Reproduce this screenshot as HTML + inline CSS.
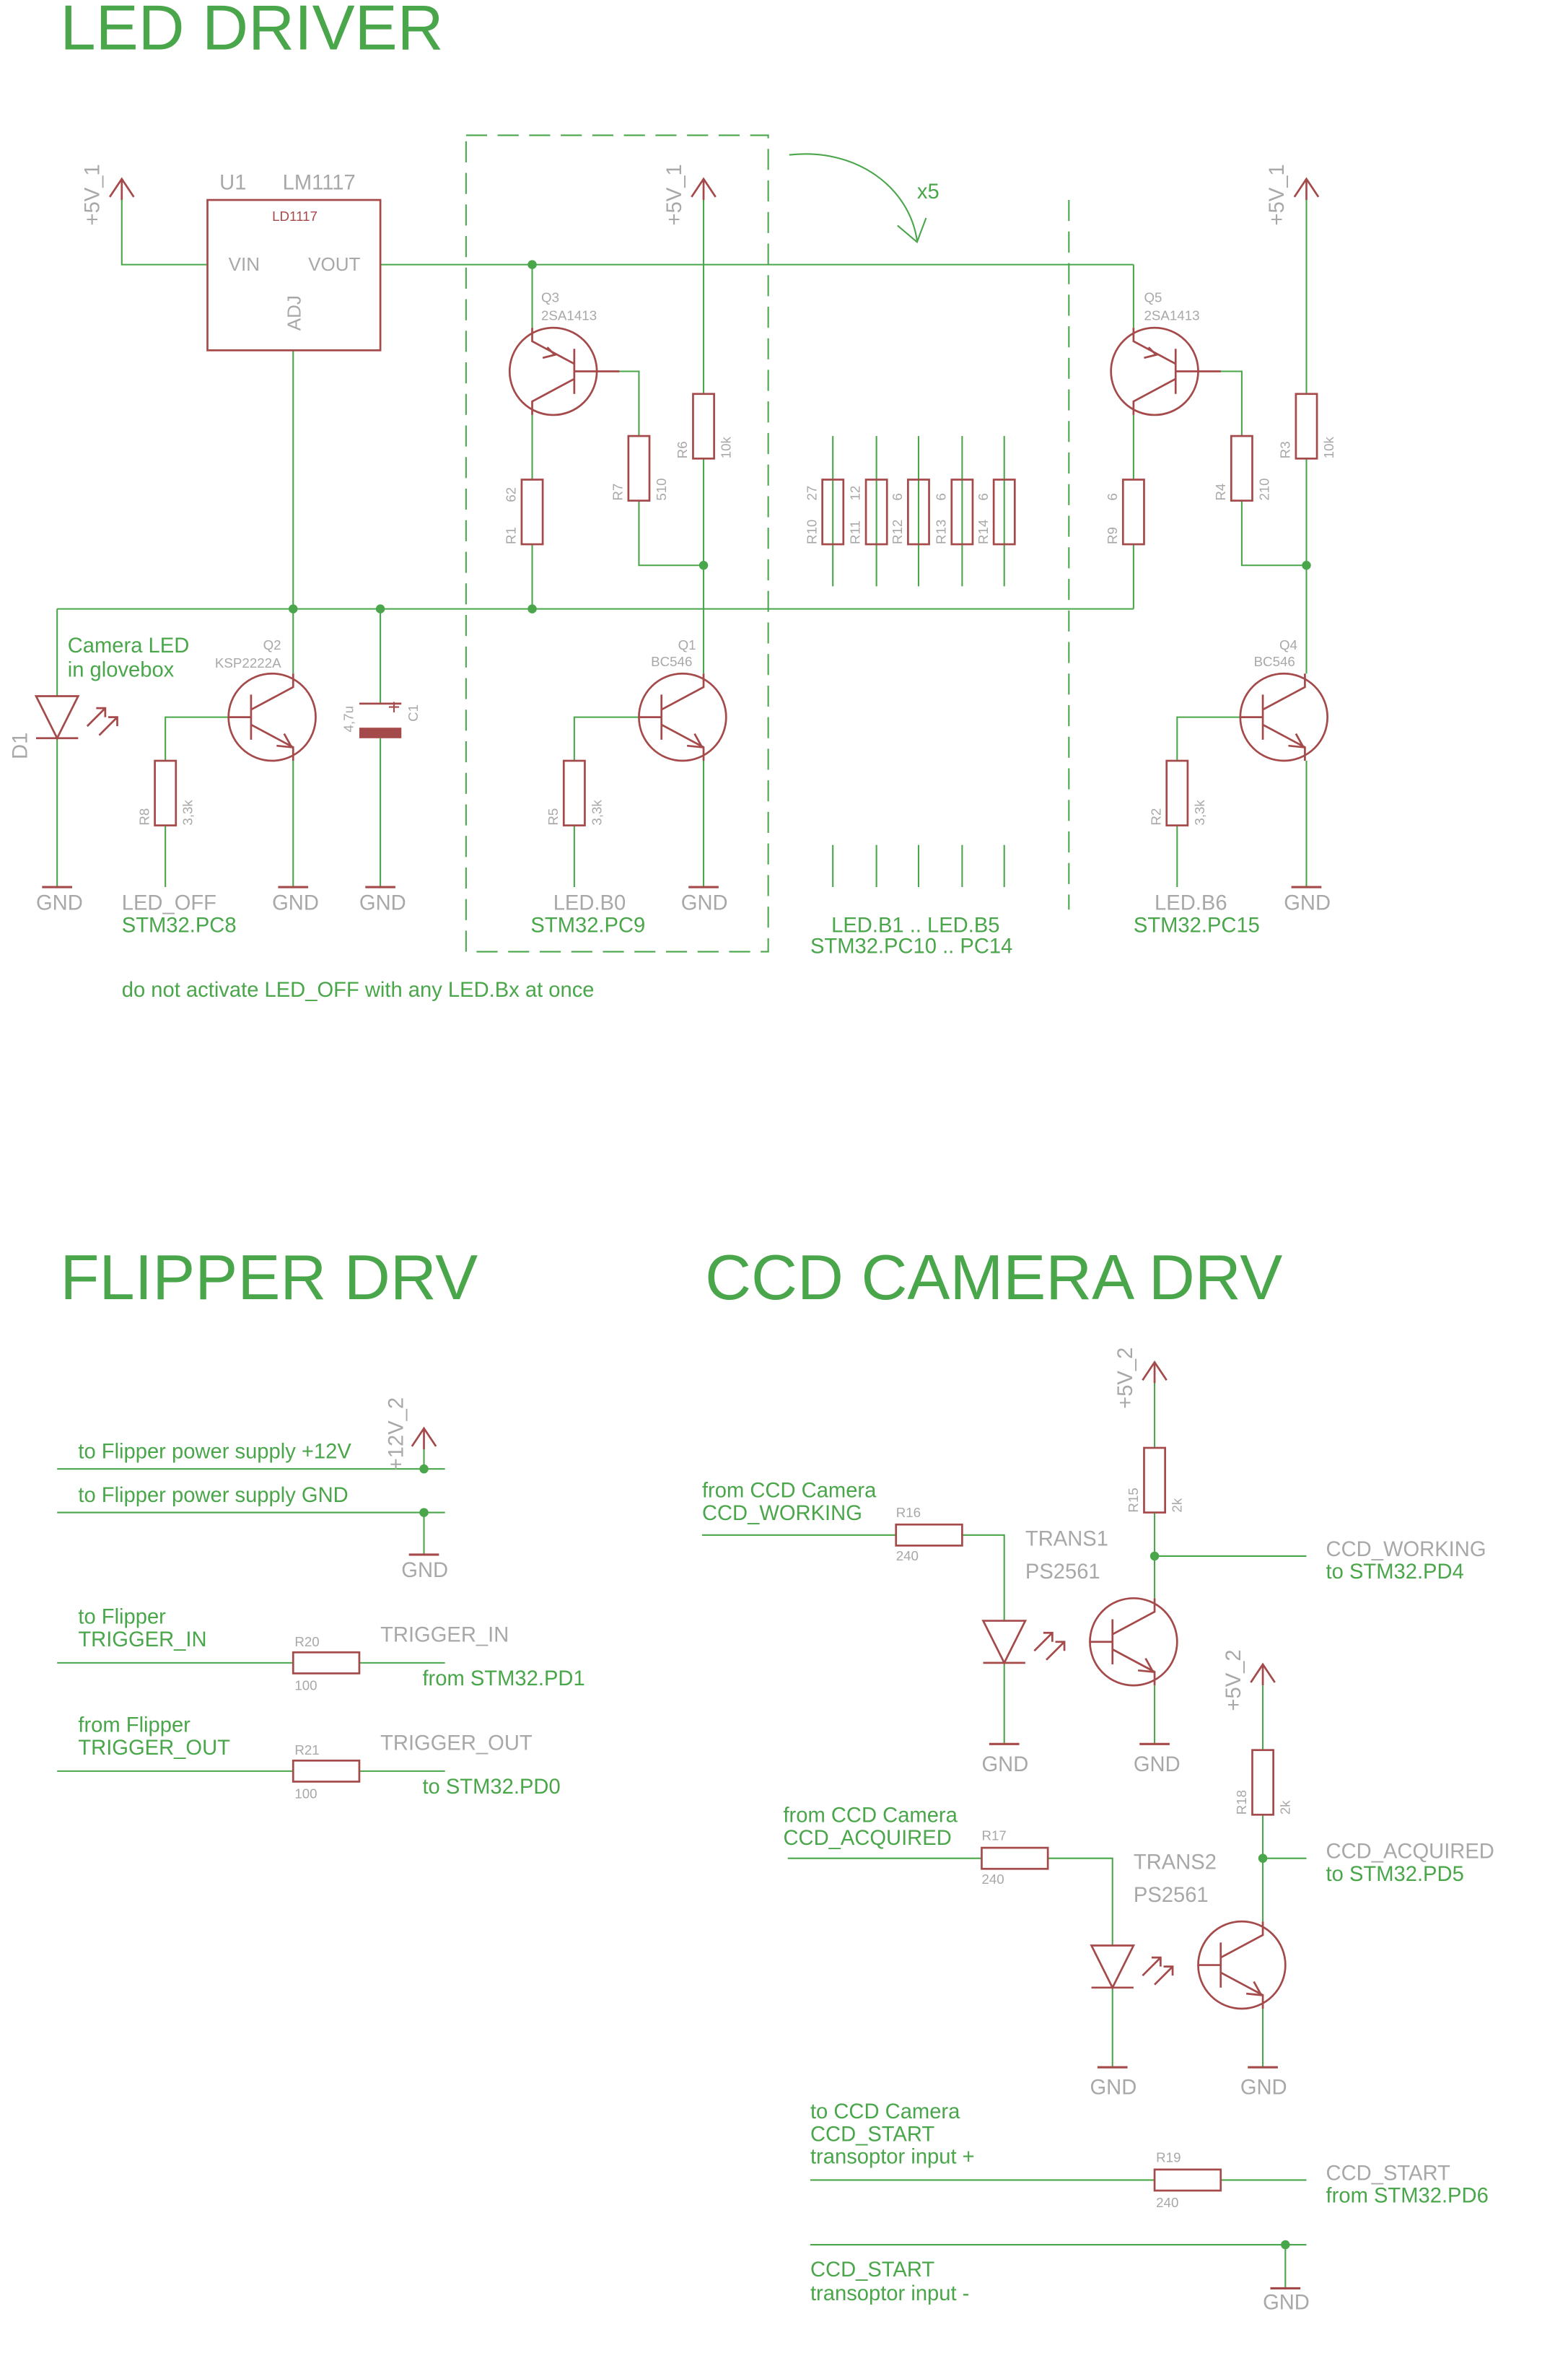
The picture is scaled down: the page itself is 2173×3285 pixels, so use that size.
<!DOCTYPE html>
<html><head><meta charset="utf-8"><style>
html,body{margin:0;padding:0;background:#fff;}
svg{display:block;}
text{font-family:"Liberation Sans",sans-serif;}
.g{fill:#4aa64a;}
.gr{fill:#a8a8a8;}
.r{fill:#a54a4a;}
</style></head><body>
<svg width="2173" height="3285" viewBox="0 0 1043 1577" preserveAspectRatio="none" xmlns="http://www.w3.org/2000/svg">
<defs>
<g id="npn" fill="none" stroke="#a54a4a" stroke-width="1.3">
<circle r="29"/><line x1="-14" y1="-15" x2="-14" y2="15"/><line x1="-29" y1="0" x2="-14" y2="0"/>
<polyline points="-14,-5 14,-20 14,-29"/><polyline points="-14,5 14,20 14,29"/>
<polyline points="3,19 13,20 8,11"/></g>
<g id="pnp" fill="none" stroke="#a54a4a" stroke-width="1.3">
<circle r="29"/><line x1="14" y1="-15" x2="14" y2="15"/><line x1="14" y1="0" x2="44" y2="0"/>
<polyline points="-14,-29 -14,-20 14,-5"/><polyline points="14,5 -14,20 -14,29"/>
<polyline points="-4,-16 1,-11 -7,-9"/></g>
<g id="gnd" stroke="#a54a4a" stroke-width="1.5"><line x1="-10" y1="0" x2="10" y2="0"/></g>
<g id="arr" fill="none" stroke="#a54a4a" stroke-width="1.3"><polyline points="-8,12 0,0 8,12"/><line x1="0" y1="0" x2="0" y2="14"/></g>
<g id="led" fill="none" stroke="#a54a4a" stroke-width="1.3"><polygon points="-14,0 14,0 0,28"/><line x1="-14" y1="28" x2="14" y2="28"/>
<line x1="20" y1="20" x2="32" y2="8"/><polyline points="26,8 32,8 32,14"/><line x1="28" y1="26" x2="40" y2="14"/><polyline points="34,14 40,14 40,20"/></g>
</defs>

<text x="40" y="33" class="g" font-size="42.5">LED DRIVER</text>
<text x="40" y="864" class="g" font-size="42.5">FLIPPER DRV</text>
<text x="469" y="864" class="g" font-size="42.5">CCD CAMERA DRV</text>

<g stroke="#4aa64a" stroke-width="1" fill="none">
<polyline points="81,133 81,176 138,176"/>
<line x1="253" y1="176" x2="754" y2="176"/>
<line x1="195" y1="233" x2="195" y2="405"/>
<line x1="38" y1="405" x2="754" y2="405"/>
<polyline points="38,405 38,463"/><line x1="38" y1="491" x2="38" y2="590"/>
<line x1="354" y1="176" x2="354" y2="218"/>
<line x1="354" y1="276" x2="354" y2="319"/><line x1="354" y1="362" x2="354" y2="405"/>
<polyline points="410,247 425,247 425,290"/><polyline points="425,333 425,376 468,376"/>
<line x1="468" y1="133" x2="468" y2="262"/><line x1="468" y1="305" x2="468" y2="448"/>
<line x1="468" y1="506" x2="468" y2="590"/>
<polyline points="382,506 382,477 425,477"/><line x1="382" y1="549" x2="382" y2="590"/>
<line x1="195" y1="405" x2="195" y2="448"/><line x1="195" y1="506" x2="195" y2="590"/>
<polyline points="110,506 110,477 152,477"/><line x1="110" y1="549" x2="110" y2="590"/>
<line x1="253" y1="405" x2="253" y2="468"/><line x1="253" y1="491" x2="253" y2="590"/>
<line x1="754" y1="176" x2="754" y2="218"/><line x1="754" y1="276" x2="754" y2="319"/><line x1="754" y1="362" x2="754" y2="405"/>
<polyline points="810,247 826,247 826,290"/><polyline points="826,333 826,376 869,376"/>
<line x1="869" y1="133" x2="869" y2="262"/><line x1="869" y1="305" x2="869" y2="448"/><line x1="869" y1="506" x2="869" y2="590"/>
<polyline points="783,506 783,477 825,477"/><line x1="783" y1="549" x2="783" y2="590"/>
<line x1="554" y1="290" x2="554" y2="390"/><line x1="583" y1="290" x2="583" y2="390"/><line x1="611" y1="290" x2="611" y2="390"/><line x1="640" y1="290" x2="640" y2="390"/><line x1="668" y1="290" x2="668" y2="390"/>
<line x1="554" y1="562" x2="554" y2="590"/><line x1="583" y1="562" x2="583" y2="590"/><line x1="611" y1="562" x2="611" y2="590"/><line x1="640" y1="562" x2="640" y2="590"/><line x1="668" y1="562" x2="668" y2="590"/>
<rect x="310" y="90" width="201" height="543" stroke-dasharray="14,7"/>
<line x1="711" y1="133" x2="711" y2="605" stroke-dasharray="14,7"/>
<path d="M525,103 C570,98 605,125 610,160"/><polyline points="597,150 610,161 616,145"/>
</g>
<g fill="#4aa64a"><circle cx="354" cy="176" r="3"/><circle cx="195" cy="405" r="3"/><circle cx="253" cy="405" r="3"/><circle cx="354" cy="405" r="3"/><circle cx="468" cy="376" r="3"/><circle cx="869" cy="376" r="3"/></g>

<g fill="none" stroke="#a54a4a" stroke-width="1.3">
<rect x="138" y="133" width="115" height="100"/>
<rect x="347" y="319" width="14" height="43"/><rect x="418" y="290" width="14" height="43"/><rect x="461" y="262" width="14" height="43"/>
<rect x="375" y="506" width="14" height="43"/><rect x="103" y="506" width="14" height="43"/>
<rect x="547" y="319" width="14" height="43"/><rect x="576" y="319" width="14" height="43"/><rect x="604" y="319" width="14" height="43"/><rect x="633" y="319" width="14" height="43"/><rect x="661" y="319" width="14" height="43"/>
<rect x="747" y="319" width="14" height="43"/><rect x="819" y="290" width="14" height="43"/><rect x="862" y="262" width="14" height="43"/><rect x="776" y="506" width="14" height="43"/>
<line x1="239" y1="468" x2="267" y2="468"/>
</g>
<rect x="239" y="484" width="28" height="7" fill="#a54a4a"/>
<text x="258" y="475" class="r" font-size="14">+</text>
<use href="#arr" x="81" y="119"/><use href="#arr" x="468" y="119"/><use href="#arr" x="869" y="119"/>
<use href="#pnp" transform="translate(368,247)"/><use href="#pnp" transform="translate(768,247)"/>
<use href="#npn" transform="translate(181,477)"/><use href="#npn" transform="translate(454,477)"/><use href="#npn" transform="translate(854,477)"/>
<use href="#led" transform="translate(38,463)"/>
<use href="#gnd" x="38" y="590"/><use href="#gnd" x="195" y="590"/><use href="#gnd" x="253" y="590"/><use href="#gnd" x="468" y="590"/><use href="#gnd" x="869" y="590"/>

<g class="gr" font-size="14">
<text x="146" y="126">U1</text><text x="188" y="126">LM1117</text>
<text x="152" y="180" font-size="12.5">VIN</text><text x="205" y="180" font-size="12.5">VOUT</text>
<text transform="translate(200,220) rotate(-90)" font-size="12.5">ADJ</text>
<text transform="translate(66,150) rotate(-90)">+5V_1</text>
<text transform="translate(453,150) rotate(-90)">+5V_1</text>
<text transform="translate(854,150) rotate(-90)">+5V_1</text>
<text transform="translate(18,505) rotate(-90)">D1</text>
<text x="24" y="605">GND</text><text x="181" y="605">GND</text><text x="239" y="605">GND</text><text x="453" y="605">GND</text><text x="854" y="605">GND</text>
<text x="81" y="605">LED_OFF</text><text x="368" y="605">LED.B0</text><text x="768" y="605">LED.B6</text>
</g>
<text x="181" y="147" class="r" font-size="9">LD1117</text>
<g class="gr" font-size="9">
<text x="360" y="201">Q3</text><text x="360" y="213">2SA1413</text>
<text x="761" y="201">Q5</text><text x="761" y="213">2SA1413</text>
<text x="175" y="432">Q2</text><text x="143" y="444">KSP2222A</text>
<text x="451" y="432">Q1</text><text x="433" y="443">BC546</text>
<text x="851" y="432">Q4</text><text x="834" y="443">BC546</text>
<text transform="translate(343,362) rotate(-90)">R1</text><text transform="translate(343,334) rotate(-90)">62</text>
<text transform="translate(414,333) rotate(-90)">R7</text><text transform="translate(443,333) rotate(-90)">510</text>
<text transform="translate(457,305) rotate(-90)">R6</text><text transform="translate(486,305) rotate(-90)">10k</text>
<text transform="translate(371,549) rotate(-90)">R5</text><text transform="translate(400,549) rotate(-90)">3,3k</text>
<text transform="translate(99,549) rotate(-90)">R8</text><text transform="translate(128,549) rotate(-90)">3,3k</text>
<text transform="translate(235,487) rotate(-90)">4,7u</text><text transform="translate(278,480) rotate(-90)">C1</text>
<text transform="translate(543,362) rotate(-90)">R10</text><text transform="translate(543,333) rotate(-90)">27</text>
<text transform="translate(572,362) rotate(-90)">R11</text><text transform="translate(572,333) rotate(-90)">12</text>
<text transform="translate(600,362) rotate(-90)">R12</text><text transform="translate(600,333) rotate(-90)">6</text>
<text transform="translate(629,362) rotate(-90)">R13</text><text transform="translate(629,333) rotate(-90)">6</text>
<text transform="translate(657,362) rotate(-90)">R14</text><text transform="translate(657,333) rotate(-90)">6</text>
<text transform="translate(743,362) rotate(-90)">R9</text><text transform="translate(743,333) rotate(-90)">6</text>
<text transform="translate(815,333) rotate(-90)">R4</text><text transform="translate(844,333) rotate(-90)">210</text>
<text transform="translate(858,305) rotate(-90)">R3</text><text transform="translate(887,305) rotate(-90)">10k</text>
<text transform="translate(772,549) rotate(-90)">R2</text><text transform="translate(801,549) rotate(-90)">3,3k</text>
</g>
<g class="g" font-size="14">
<text x="45" y="434">Camera LED</text><text x="45" y="450">in glovebox</text>
<text x="81" y="620">STM32.PC8</text><text x="353" y="620">STM32.PC9</text><text x="754" y="620">STM32.PC15</text>
<text x="553" y="620">LED.B1 .. LED.B5</text><text x="539" y="634">STM32.PC10 .. PC14</text>
<text x="610" y="132">x5</text>
<text x="81" y="663">do not activate LED_OFF with any LED.Bx at once</text>
</g>

<g stroke="#4aa64a" stroke-width="1" fill="none">
<line x1="38" y1="977" x2="296" y2="977"/><line x1="282" y1="964" x2="282" y2="977"/>
<line x1="38" y1="1006" x2="296" y2="1006"/><line x1="282" y1="1006" x2="282" y2="1034"/>
<line x1="38" y1="1106" x2="195" y2="1106"/><line x1="239" y1="1106" x2="296" y2="1106"/>
<line x1="38" y1="1178" x2="195" y2="1178"/><line x1="239" y1="1178" x2="296" y2="1178"/>
</g>
<g fill="#4aa64a"><circle cx="282" cy="977" r="3"/><circle cx="282" cy="1006" r="3"/></g>
<use href="#arr" x="282" y="950"/><use href="#gnd" x="282" y="1034"/>
<g fill="none" stroke="#a54a4a" stroke-width="1.3"><rect x="195" y="1099" width="44" height="14"/><rect x="195" y="1171" width="44" height="14"/></g>
<g class="g" font-size="14">
<text x="52" y="970">to Flipper power supply +12V</text><text x="52" y="999">to Flipper power supply GND</text>
<text x="52" y="1080">to Flipper</text><text x="52" y="1095">TRIGGER_IN</text>
<text x="52" y="1152">from Flipper</text><text x="52" y="1167">TRIGGER_OUT</text>
<text x="281" y="1121">from STM32.PD1</text><text x="281" y="1193">to STM32.PD0</text>
</g>
<g class="gr" font-size="14">
<text transform="translate(268,978) rotate(-90)">+12V_2</text>
<text x="267" y="1049">GND</text>
<text x="253" y="1092">TRIGGER_IN</text><text x="253" y="1164">TRIGGER_OUT</text>
</g>
<g class="gr" font-size="9"><text x="196" y="1095">R20</text><text x="196" y="1124">100</text><text x="196" y="1167">R21</text><text x="196" y="1196">100</text></g>

<g stroke="#4aa64a" stroke-width="1" fill="none">
<line x1="467" y1="1021" x2="596" y2="1021"/><polyline points="640,1021 668,1021 668,1078"/><line x1="668" y1="1106" x2="668" y2="1160"/>
<line x1="768" y1="920" x2="768" y2="963"/><line x1="768" y1="1006" x2="768" y2="1063"/><line x1="768" y1="1035" x2="869" y2="1035"/><line x1="768" y1="1121" x2="768" y2="1160"/>
<line x1="524" y1="1236" x2="653" y2="1236"/><polyline points="697,1236 740,1236 740,1294"/><line x1="740" y1="1322" x2="740" y2="1375"/>
<line x1="840" y1="1121" x2="840" y2="1164"/><line x1="840" y1="1207" x2="840" y2="1278"/><line x1="840" y1="1236" x2="869" y2="1236"/><line x1="840" y1="1336" x2="840" y2="1375"/>
<line x1="539" y1="1450" x2="768" y2="1450"/><line x1="812" y1="1450" x2="869" y2="1450"/>
<line x1="539" y1="1493" x2="869" y2="1493"/><line x1="855" y1="1493" x2="855" y2="1522"/>
</g>
<g fill="#4aa64a"><circle cx="768" cy="1035" r="3"/><circle cx="840" cy="1236" r="3"/><circle cx="855" cy="1493" r="3"/></g>
<g fill="none" stroke="#a54a4a" stroke-width="1.3">
<rect x="596" y="1014" width="44" height="14"/><rect x="653" y="1229" width="44" height="14"/><rect x="768" y="1443" width="44" height="14"/>
<rect x="761" y="963" width="14" height="43"/><rect x="833" y="1164" width="14" height="43"/>
</g>
<use href="#arr" x="768" y="906"/><use href="#arr" x="840" y="1107"/>
<use href="#led" transform="translate(668,1078)"/><use href="#led" transform="translate(740,1294)"/>
<use href="#npn" transform="translate(754,1092)"/><use href="#npn" transform="translate(826,1307)"/>
<use href="#gnd" x="668" y="1160"/><use href="#gnd" x="768" y="1160"/><use href="#gnd" x="740" y="1375"/><use href="#gnd" x="840" y="1375"/><use href="#gnd" x="855" y="1522"/>
<g class="g" font-size="14">
<text x="467" y="996">from CCD Camera</text><text x="467" y="1011">CCD_WORKING</text>
<text x="882" y="1050">to STM32.PD4</text>
<text x="521" y="1212">from CCD Camera</text><text x="521" y="1227">CCD_ACQUIRED</text>
<text x="882" y="1251">to STM32.PD5</text>
<text x="539" y="1409">to CCD Camera</text><text x="539" y="1424">CCD_START</text><text x="539" y="1439">transoptor input +</text>
<text x="882" y="1465">from STM32.PD6</text>
<text x="539" y="1514">CCD_START</text><text x="539" y="1530">transoptor input -</text>
</g>
<g class="gr" font-size="14">
<text transform="translate(753,937) rotate(-90)">+5V_2</text><text transform="translate(825,1138) rotate(-90)">+5V_2</text>
<text x="682" y="1028">TRANS1</text><text x="682" y="1050">PS2561</text>
<text x="754" y="1243">TRANS2</text><text x="754" y="1265">PS2561</text>
<text x="882" y="1035">CCD_WORKING</text><text x="882" y="1236">CCD_ACQUIRED</text><text x="882" y="1450">CCD_START</text>
<text x="653" y="1178">GND</text><text x="754" y="1178">GND</text><text x="725" y="1393">GND</text><text x="825" y="1393">GND</text><text x="840" y="1536">GND</text>
</g>
<g class="gr" font-size="9">
<text x="596" y="1009">R16</text><text x="596" y="1038">240</text>
<text x="653" y="1224">R17</text><text x="653" y="1253">240</text>
<text x="769" y="1438">R19</text><text x="769" y="1468">240</text>
<text transform="translate(757,1006) rotate(-90)">R15</text><text transform="translate(786,1006) rotate(-90)">2k</text>
<text transform="translate(829,1207) rotate(-90)">R18</text><text transform="translate(858,1207) rotate(-90)">2k</text>
</g>
</svg>
</body></html>
